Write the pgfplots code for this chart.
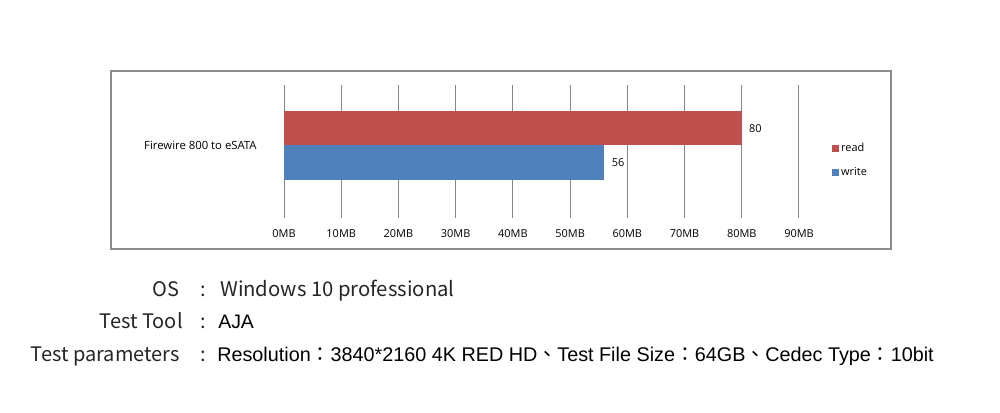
\documentclass[border=0pt]{standalone}
\usepackage{fontspec}
\usepackage{pgfplots}
\pgfplotsset{compat=1.18}
\newfontfamily\chartfont{Open Sans}
\newfontfamily\cjkfont{Noto Sans CJK TC}
\newfontfamily\arialfont{Liberation Sans}
\definecolor{readred}{HTML}{C0504D}
\definecolor{writeblue}{HTML}{4F81BD}
\definecolor{gridgray}{HTML}{868686}
\definecolor{framegray}{HTML}{8C8C8C}
\begin{document}
\begin{tikzpicture}
\begin{scope}[x=0.75pt,y=0.75pt]
\useasboundingbox (0,0) rectangle (1000,413);
\fill[white] (0,0) rectangle (1000,413);
% chart frame
\draw[framegray, line width=0.9pt] (111,342) rectangle (891,164);
\end{scope}
\begin{axis}[
  at={(213pt,146.25pt)}, anchor=south west,
  scale only axis, width=386.25pt, height=99.75pt,
  xmin=0, xmax=90, ymin=-2.1, ymax=1.75,
  xbar, bar width=1, bar shift=0,
  /pgf/number format/assume math mode=true,
  xtick={0,10,...,90},
  xticklabels={0MB,10MB,20MB,30MB,40MB,50MB,60MB,70MB,80MB,90MB},
  ytick={0}, yticklabels={Firewire 800 to eSATA},
  xmajorgrids, grid style={gridgray, line width=0.75pt},
  axis line style={draw=none}, major tick length=0pt,
  tick label style={font=\chartfont\fontsize{8.2}{10}\selectfont, black},
  xticklabel style={yshift=-5.5pt},
  yticklabel style={font=\chartfont\fontsize{8.5}{10}\selectfont, xshift=-17pt},
  nodes near coords, nodes near coords align={horizontal},
  every node near coord/.append style={font=\chartfont\fontsize{8.2}{10}\selectfont, black, xshift=2pt},
  legend cell align=left,
  legend style={draw=none, fill=none, at={(1.056,0.597)}, anchor=north west,
    font=\chartfont\fontsize{8.2}{10}\selectfont, row sep=7.25pt,
    nodes={inner sep=1.5pt}},
  legend image code/.code={\fill[#1] (0pt,-2.6pt) rectangle (5.3pt,2.7pt);},
]
\addplot[draw=none, fill=readred] coordinates {(80,0.5)};
\addplot[draw=none, fill=writeblue] coordinates {(56,-0.5)};
\legend{read, write}
\end{axis}
% test conditions
\begin{scope}[x=0.75pt,y=0.75pt]
\node[anchor=base east, inner sep=0, font=\cjkfont\fontsize{15}{18}\selectfont, text=black!85] at (180,116) {OS};
\node[anchor=base east, inner sep=0, font=\cjkfont\fontsize{15}{18}\selectfont, text=black!85] at (183,84) {Test Tool};
\node[anchor=base east, inner sep=0, font=\cjkfont\fontsize{15}{18}\selectfont, text=black!85] at (180,51) {Test parameters};
\foreach \yy in {116,84,51}
  \node[anchor=base, inner sep=0, font=\cjkfont\fontsize{15}{18}\selectfont, text=black!85] at (203,\yy) {:};
\node[anchor=base west, inner sep=0, font=\cjkfont\fontsize{15.2}{18}\selectfont, text=black!85] at (220,116) {Windows 10 professional};
\node[anchor=base west, inner sep=0, font=\arialfont\fontsize{14.6}{17}\selectfont] at (218,84) {AJA};
\node[anchor=base west, inner sep=0, font=\arialfont\fontsize{14.85}{17}\selectfont] at (217,51)
  {Resolution{\cjkfont ：}3840*2160 4K RED HD{\cjkfont 、}Test File Size{\cjkfont ：}64GB{\cjkfont 、}Cedec Type{\cjkfont ：}10bit};
\end{scope}
\end{tikzpicture}
\end{document}
